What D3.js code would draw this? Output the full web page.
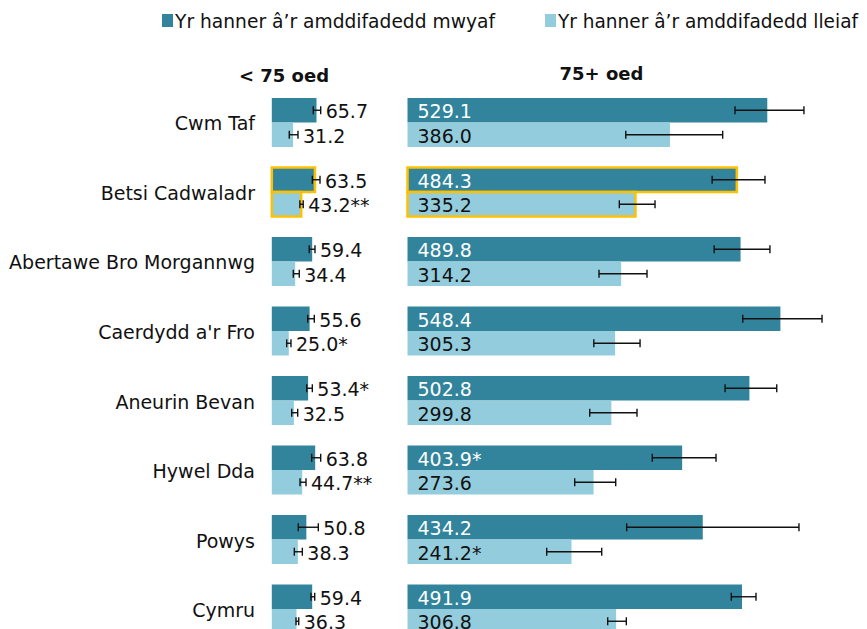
<!DOCTYPE html>
<html><head><meta charset="utf-8">
<script src="https://cdn.jsdelivr.net/npm/d3@7"></script>
<style>html,body{margin:0;padding:0;background:#fff;}svg{display:block;}</style>
</head><body>
<svg id="chart" width="867" height="629"></svg>
<script>
const categories = ["Cwm Taf","Betsi Cadwaladr","Abertawe Bro Morgannwg","Caerdydd a'r Fro","Aneurin Bevan","Hywel Dda","Powys","Cymru"];
const seriesNames = ["Yr hanner â’r amddifadedd mwyaf","Yr hanner â’r amddifadedd lleiaf"];
const panelTitles = ["< 75 oed","75+ oed"];
const highlighted = ["Betsi Cadwaladr"];

// < 75 oed
const under75Most = [65.7,63.5,59.4,55.6,53.4,63.8,50.8,59.4];
const under75MostLabels = ["65.7","63.5","59.4","55.6","53.4*","63.8","50.8","59.4"];
const under75MostLo = [61.0,59.6,55.1,52.8,51.3,58.7,39.0,57.6];
const under75MostHi = [71.9,70.9,63.5,62.5,59.6,71.9,68.4,63.1];
const under75Least = [31.2,43.2,34.4,25.0,32.5,44.7,38.3,36.3];
const under75LeastLabels = ["31.2","43.2**","34.4","25.0*","32.5","44.7**","38.3","36.3"];
const under75LeastLo = [25.7,41.3,31.6,21.9,29.3,41.5,33.1,35.6];
const under75LeastHi = [38.5,46.2,40.4,28.2,38.1,50.3,44.9,39.6];

// 75+ oed
const over75Most = [529.1,484.3,489.8,548.4,502.8,403.9,434.2,491.9];
const over75MostLabels = ["529.1","484.3","489.8","548.4","502.8","403.9*","434.2","491.9"];
const over75MostLo = [481.6,448.0,451.0,493.0,467.0,360.0,322.3,476.2];
const over75MostHi = [583.0,525.7,533.0,609.6,543.0,453.7,575.7,512.5];
const over75Least = [386.0,335.2,314.2,305.3,299.8,273.6,241.2,306.8];
const over75LeastLabels = ["386.0","335.2","314.2","305.3","299.8","273.6","241.2*","306.8"];
const over75LeastLo = [321.0,311.5,281.6,274.0,268.0,245.9,204.7,294.4];
const over75LeastHi = [463.5,364.0,352.2,342.0,337.5,306.2,285.6,321.8];

const DARK = "#31849B", LIGHT = "#93CDDD", GOLD = "#FFC000";
const FONT = "'DejaVu Sans', Verdana, sans-serif";

const svg = d3.select("#chart");

const y = d3.scaleBand().domain(categories).range([98, 633.5]).paddingInner(0.295).paddingOuter(0);
const ySub = d3.scaleBand().domain(["most","least"]).range([0, y.bandwidth()]);

const xLeft = d3.scaleLinear().domain([0, 100]).range([271.8, 339.8]);
const xRight = d3.scaleLinear().domain([0, 600]).range([407.5, 815.5]);

function rows(vals, labels, lo, hi, key) {
  return categories.map((c, i) => ({cat: c, key, v: vals[i], label: labels[i], lo: lo[i], hi: hi[i]}));
}

const panels = [
  {x: xLeft, inside: false, data: [
    ...rows(under75Most, under75MostLabels, under75MostLo, under75MostHi, "most"),
    ...rows(under75Least, under75LeastLabels, under75LeastLo, under75LeastHi, "least")]},
  {x: xRight, inside: true, data: [
    ...rows(over75Most, over75MostLabels, over75MostLo, over75MostHi, "most"),
    ...rows(over75Least, over75LeastLabels, over75LeastLo, over75LeastHi, "least")]}
];

panels.forEach(p => {
  const g = svg.append("g");
  const x = p.x;
  const by = d => y(d.cat) + ySub(d.key);
  const bh = ySub.bandwidth();
  g.selectAll("rect.bar").data(p.data).join("rect")
    .attr("class", "bar")
    .attr("x", x(0))
    .attr("y", by)
    .attr("width", d => x(d.v) - x(0))
    .attr("height", bh)
    .attr("fill", d => d.key === "most" ? DARK : LIGHT)
    .attr("stroke", d => highlighted.includes(d.cat) ? GOLD : "none")
    .attr("stroke-width", 2.5);

  // error bars
  const eg = g.selectAll("g.err").data(p.data).join("g").attr("class", "err")
    .attr("stroke", "#111").attr("stroke-width", 1.4);
  eg.append("line")
    .attr("x1", d => x(d.lo)).attr("x2", d => x(d.hi))
    .attr("y1", d => by(d) + bh / 2).attr("y2", d => by(d) + bh / 2);
  eg.append("line")
    .attr("x1", d => x(d.lo)).attr("x2", d => x(d.lo))
    .attr("y1", d => by(d) + bh / 2 - 4).attr("y2", d => by(d) + bh / 2 + 4);
  eg.append("line")
    .attr("x1", d => x(d.hi)).attr("x2", d => x(d.hi))
    .attr("y1", d => by(d) + bh / 2 - 4).attr("y2", d => by(d) + bh / 2 + 4);

  g.selectAll("text.val").data(p.data).join("text")
    .attr("class", "val")
    .attr("x", d => p.inside ? x(0) + 10 : x(d.hi) + 5)
    .attr("y", d => by(d) + bh / 2 + 1)
    .attr("dominant-baseline", "central")
    .attr("font-family", FONT)
    .attr("font-size", 19)
    .attr("fill", d => p.inside && d.key === "most" ? "#fff" : "#111")
    .text(d => d.label);
});

// category labels
svg.append("g").selectAll("text").data(categories).join("text")
  .attr("x", 255)
  .attr("y", d => y(d) + y.bandwidth() / 2 + 1)
  .attr("text-anchor", "end")
  .attr("dominant-baseline", "central")
  .attr("font-family", FONT)
  .attr("font-size", 19)
  .attr("fill", "#111")
  .text(d => d);

// panel titles
svg.append("text").attr("x", 284).attr("y", 75).attr("text-anchor", "middle")
  .attr("dominant-baseline", "central").attr("font-family", FONT).attr("font-weight", "bold")
  .attr("font-size", 18).attr("fill", "#111").text(panelTitles[0]);
svg.append("text").attr("x", 601.5).attr("y", 73).attr("text-anchor", "middle")
  .attr("dominant-baseline", "central").attr("font-family", FONT).attr("font-weight", "bold")
  .attr("font-size", 18).attr("fill", "#111").text(panelTitles[1]);

// legend
const legendItems = [
  {name: seriesNames[0], color: DARK, x: 162, w: 320},
  {name: seriesNames[1], color: LIGHT, x: 545, w: 300}
];
const lg = svg.append("g").selectAll("g").data(legendItems).join("g")
  .attr("transform", d => `translate(${d.x},0)`);
lg.append("rect").attr("x", 0).attr("y", 14).attr("width", 11).attr("height", 13).attr("fill", d => d.color);
lg.append("text").attr("x", 13).attr("y", 21).attr("dominant-baseline", "central")
  .attr("font-family", FONT).attr("font-size", 19).attr("fill", "#111")
  .attr("textLength", d => d.w).attr("lengthAdjust", "spacingAndGlyphs")
  .text(d => d.name);
</script>
</body></html>
